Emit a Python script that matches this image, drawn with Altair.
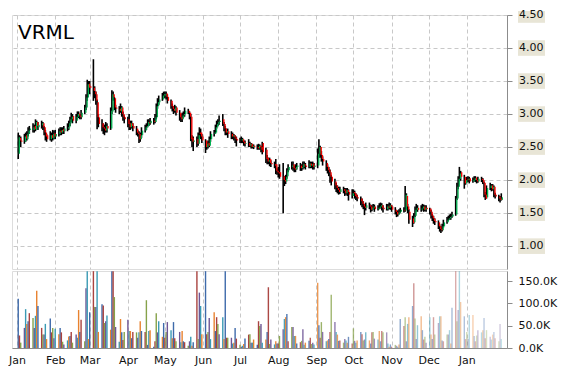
import altair as alt
import pandas as pd

ticker = "VRML"

# ---------------- OHLC per month (2019-01 .. 2020-01), trading days ----------------
o_jan19 = [2.40, 2.64, 2.60, 2.58, 2.68, 2.62, 2.70, 2.76, 2.76, 2.82, 2.76, 2.88, 2.80, 2.83, 2.86, 2.80, 2.72, 2.68, 2.62, 2.68, 2.63, 2.71]
h_jan19 = [2.72, 2.68, 2.66, 2.70, 2.72, 2.74, 2.80, 2.82, 2.86, 2.84, 2.92, 2.90, 2.88, 2.90, 2.88, 2.82, 2.76, 2.70, 2.74, 2.72, 2.76, 2.75]
l_jan19 = [2.32, 2.55, 2.50, 2.55, 2.58, 2.60, 2.66, 2.70, 2.72, 2.72, 2.74, 2.78, 2.76, 2.78, 2.76, 2.68, 2.60, 2.58, 2.60, 2.58, 2.60, 2.62]
c_jan19 = [2.65, 2.60, 2.58, 2.66, 2.63, 2.70, 2.75, 2.78, 2.80, 2.77, 2.88, 2.82, 2.84, 2.86, 2.80, 2.72, 2.66, 2.62, 2.68, 2.64, 2.70, 2.66]

o_feb19 = [2.66, 2.70, 2.75, 2.72, 2.77, 2.74, 2.78, 2.80, 2.86, 2.92, 2.97, 2.90, 2.96, 3.01, 2.98, 2.95, 3.02, 3.10, 3.25, 3.46]
h_feb19 = [2.76, 2.78, 2.80, 2.80, 2.80, 2.82, 2.86, 2.90, 2.96, 3.02, 3.00, 3.00, 3.04, 3.04, 3.00, 3.06, 3.14, 3.30, 3.52, 3.50]
l_feb19 = [2.62, 2.66, 2.68, 2.68, 2.70, 2.70, 2.74, 2.76, 2.82, 2.88, 2.86, 2.86, 2.92, 2.94, 2.92, 2.92, 3.00, 3.06, 3.20, 3.32]
c_feb19 = [2.70, 2.74, 2.72, 2.76, 2.74, 2.78, 2.80, 2.86, 2.92, 2.96, 2.90, 2.96, 3.00, 2.98, 2.95, 3.02, 3.10, 3.25, 3.45, 3.40]

o_mar19 = [3.42, 3.40, 3.34, 3.30, 3.18, 2.95, 2.86, 2.80, 2.78, 2.75, 2.82, 2.78, 3.04, 3.30, 3.24, 3.10, 3.08, 3.04, 3.10, 3.00, 2.95]
h_mar19 = [3.50, 3.83, 3.42, 3.34, 3.22, 3.00, 2.92, 2.86, 2.84, 2.88, 2.86, 3.10, 3.36, 3.34, 3.26, 3.14, 3.12, 3.16, 3.12, 3.04, 2.98]
l_mar19 = [3.30, 3.20, 3.24, 3.14, 2.77, 2.80, 2.74, 2.70, 2.68, 2.72, 2.72, 2.76, 3.00, 3.20, 3.06, 3.02, 3.00, 3.02, 2.96, 2.90, 2.86]
c_mar19 = [3.40, 3.35, 3.30, 3.20, 2.95, 2.85, 2.80, 2.78, 2.75, 2.82, 2.78, 3.05, 3.30, 3.25, 3.10, 3.08, 3.05, 3.10, 3.00, 2.95, 2.92]

o_apr19 = [2.92, 2.86, 2.80, 2.86, 2.82, 2.78, 2.72, 2.70, 2.62, 2.68, 2.75, 2.80, 2.82, 2.88, 2.86, 2.90, 2.88, 2.95, 3.12, 3.18, 3.22, 3.28]
h_apr19 = [2.96, 3.00, 2.90, 2.90, 2.86, 2.82, 2.76, 2.74, 2.72, 2.80, 2.84, 2.86, 2.92, 2.92, 2.94, 2.94, 3.00, 3.16, 3.24, 3.28, 3.32, 3.34]
l_apr19 = [2.80, 2.76, 2.76, 2.78, 2.74, 2.68, 2.66, 2.56, 2.58, 2.64, 2.72, 2.76, 2.80, 2.82, 2.84, 2.84, 2.86, 2.92, 3.08, 3.14, 3.20, 3.24]
c_apr19 = [2.85, 2.80, 2.86, 2.82, 2.78, 2.72, 2.70, 2.62, 2.68, 2.75, 2.80, 2.82, 2.88, 2.86, 2.90, 2.88, 2.95, 3.12, 3.18, 3.22, 3.28, 3.30]

o_may19 = [3.28, 3.31, 3.26, 3.20, 3.12, 3.08, 3.05, 3.10, 3.02, 2.95, 2.92, 2.98, 3.00, 3.05, 3.02, 2.96, 2.64, 2.58, 2.62, 2.55, 2.72, 2.72, 2.66]
h_may19 = [3.34, 3.34, 3.30, 3.22, 3.16, 3.12, 3.14, 3.12, 3.06, 3.00, 3.02, 3.04, 3.10, 3.08, 3.04, 3.00, 2.68, 2.66, 2.66, 2.72, 2.80, 2.78, 2.70]
l_may19 = [3.24, 3.22, 3.16, 3.08, 3.04, 3.00, 3.02, 2.98, 2.90, 2.88, 2.88, 2.94, 2.96, 3.00, 2.92, 2.59, 2.50, 2.44, 2.50, 2.52, 2.64, 2.62, 2.56]
c_may19 = [3.30, 3.26, 3.20, 3.12, 3.08, 3.05, 3.10, 3.02, 2.95, 2.92, 2.98, 3.00, 3.05, 3.02, 2.96, 2.62, 2.58, 2.60, 2.55, 2.68, 2.70, 2.66, 2.60]

o_jun19 = [2.60, 2.50, 2.56, 2.52, 2.62, 2.70, 2.72, 2.80, 2.85, 2.88, 2.92, 2.85, 2.78, 2.72, 2.74, 2.70, 2.66, 2.68, 2.65, 2.62]
h_jun19 = [2.62, 2.58, 2.60, 2.66, 2.74, 2.76, 2.84, 2.90, 2.92, 2.98, 3.00, 2.88, 2.82, 2.78, 2.78, 2.74, 2.72, 2.70, 2.68, 2.66]
l_jun19 = [2.41, 2.46, 2.48, 2.50, 2.58, 2.66, 2.70, 2.78, 2.82, 2.84, 2.82, 2.74, 2.68, 2.68, 2.64, 2.62, 2.62, 2.60, 2.56, 2.51]
c_jun19 = [2.50, 2.55, 2.52, 2.62, 2.70, 2.72, 2.80, 2.85, 2.88, 2.90, 2.85, 2.78, 2.72, 2.74, 2.70, 2.66, 2.68, 2.65, 2.62, 2.60]

o_jul19 = [2.60, 2.60, 2.62, 2.58, 2.55, 2.56, 2.52, 2.55, 2.50, 2.52, 2.50, 2.48, 2.52, 2.50, 2.56, 2.46, 2.34, 2.28, 2.32, 2.26, 2.24, 2.24, 2.14]
h_jul19 = [2.64, 2.66, 2.64, 2.60, 2.60, 2.62, 2.58, 2.56, 2.55, 2.54, 2.54, 2.55, 2.54, 2.52, 2.58, 2.49, 2.38, 2.34, 2.34, 2.30, 2.28, 2.32, 2.18]
l_jul19 = [2.56, 2.56, 2.56, 2.52, 2.51, 2.50, 2.50, 2.48, 2.48, 2.47, 2.46, 2.46, 2.46, 2.42, 2.39, 2.26, 2.24, 2.24, 2.21, 2.20, 2.18, 2.09, 2.08]
c_jul19 = [2.60, 2.62, 2.58, 2.55, 2.56, 2.52, 2.55, 2.50, 2.52, 2.50, 2.48, 2.52, 2.50, 2.46, 2.42, 2.32, 2.28, 2.30, 2.26, 2.24, 2.22, 2.14, 2.12]

o_aug19 = [2.12, 2.12, 2.06, 2.00, 1.98, 2.06, 2.15, 2.20, 2.24, 2.18, 2.16, 2.20, 2.22, 2.18, 2.20, 2.24, 2.22, 2.20, 2.25, 2.22, 2.25, 2.20]
h_aug19 = [2.20, 2.24, 2.26, 2.06, 2.08, 2.18, 2.24, 2.28, 2.28, 2.22, 2.24, 2.26, 2.26, 2.24, 2.28, 2.28, 2.26, 2.30, 2.28, 2.28, 2.28, 2.26]
l_aug19 = [2.04, 2.02, 1.50, 1.91, 1.94, 2.02, 2.12, 2.16, 2.14, 2.12, 2.12, 2.16, 2.14, 2.14, 2.16, 2.18, 2.16, 2.18, 2.18, 2.18, 2.16, 2.16]
c_aug19 = [2.10, 2.05, 2.00, 1.98, 2.05, 2.15, 2.20, 2.22, 2.18, 2.16, 2.20, 2.22, 2.18, 2.20, 2.24, 2.22, 2.20, 2.25, 2.22, 2.24, 2.20, 2.22]

o_sep19 = [2.22, 2.40, 2.50, 2.38, 2.32, 2.26, 2.20, 2.15, 2.12, 2.05, 1.98, 1.92, 1.88, 1.85, 1.82, 1.86, 1.84, 1.80, 1.85, 1.82, 1.76]
h_sep19 = [2.48, 2.62, 2.52, 2.44, 2.36, 2.30, 2.24, 2.20, 2.16, 2.08, 2.02, 1.96, 1.92, 1.90, 1.90, 1.90, 1.88, 1.88, 1.88, 1.86, 1.86]
l_sep19 = [2.18, 2.34, 2.34, 2.28, 2.22, 2.14, 2.10, 2.06, 1.96, 1.92, 1.86, 1.82, 1.80, 1.78, 1.79, 1.80, 1.76, 1.78, 1.76, 1.69, 1.72]
c_sep19 = [2.40, 2.50, 2.38, 2.32, 2.28, 2.20, 2.15, 2.12, 2.05, 1.98, 1.92, 1.88, 1.85, 1.82, 1.86, 1.84, 1.80, 1.85, 1.82, 1.78, 1.80]

o_oct19 = [1.82, 1.80, 1.78, 1.74, 1.72, 1.68, 1.64, 1.60, 1.58, 1.62, 1.60, 1.55, 1.58, 1.60, 1.56, 1.58, 1.60, 1.62, 1.58, 1.56, 1.60, 1.58, 1.62]
h_oct19 = [1.86, 1.84, 1.80, 1.78, 1.75, 1.72, 1.68, 1.64, 1.66, 1.66, 1.63, 1.62, 1.64, 1.63, 1.62, 1.65, 1.66, 1.65, 1.62, 1.64, 1.64, 1.66, 1.65]
l_oct19 = [1.76, 1.72, 1.70, 1.68, 1.62, 1.59, 1.56, 1.47, 1.54, 1.56, 1.51, 1.53, 1.55, 1.52, 1.54, 1.56, 1.57, 1.54, 1.51, 1.54, 1.54, 1.56, 1.55]
c_oct19 = [1.80, 1.76, 1.74, 1.72, 1.68, 1.64, 1.60, 1.58, 1.62, 1.60, 1.55, 1.58, 1.60, 1.56, 1.58, 1.60, 1.62, 1.58, 1.56, 1.60, 1.58, 1.62, 1.60]

o_nov19 = [1.60, 1.55, 1.52, 1.48, 1.50, 1.52, 1.55, 1.54, 1.76, 1.60, 1.52, 1.42, 1.36, 1.46, 1.55, 1.58, 1.55, 1.57, 1.60, 1.55, 1.58]
h_nov19 = [1.62, 1.59, 1.55, 1.54, 1.56, 1.58, 1.59, 1.91, 1.80, 1.64, 1.56, 1.46, 1.50, 1.60, 1.64, 1.62, 1.62, 1.64, 1.63, 1.62, 1.62]
l_nov19 = [1.52, 1.48, 1.44, 1.45, 1.48, 1.50, 1.51, 1.52, 1.56, 1.50, 1.34, 1.29, 1.34, 1.44, 1.52, 1.52, 1.52, 1.54, 1.52, 1.53, 1.52]
c_nov19 = [1.55, 1.52, 1.48, 1.50, 1.52, 1.55, 1.54, 1.78, 1.60, 1.55, 1.40, 1.35, 1.45, 1.55, 1.58, 1.55, 1.57, 1.60, 1.55, 1.58, 1.56]

o_dec19 = [1.57, 1.52, 1.46, 1.42, 1.38, 1.36, 1.30, 1.26, 1.24, 1.30, 1.36, 1.40, 1.42, 1.44, 1.45, 1.48, 1.72, 1.90, 2.02, 2.12, 2.05, 1.95]
h_dec19 = [1.58, 1.55, 1.49, 1.46, 1.42, 1.39, 1.33, 1.30, 1.34, 1.40, 1.44, 1.46, 1.48, 1.49, 1.52, 1.76, 1.96, 2.06, 2.20, 2.14, 2.08, 2.04]
l_dec19 = [1.48, 1.42, 1.38, 1.34, 1.32, 1.26, 1.22, 1.20, 1.22, 1.28, 1.34, 1.38, 1.40, 1.40, 1.43, 1.46, 1.70, 1.86, 1.98, 1.99, 1.87, 1.93]
c_dec19 = [1.52, 1.46, 1.42, 1.38, 1.36, 1.30, 1.26, 1.24, 1.30, 1.36, 1.40, 1.42, 1.44, 1.45, 1.48, 1.72, 1.90, 2.02, 2.10, 2.05, 1.95, 2.00]

o_jan20 = [2.01, 2.00, 2.03, 1.98, 2.00, 2.04, 2.00, 1.98, 2.02, 2.00, 1.96, 1.78, 1.74, 1.88, 1.92, 1.86, 1.90, 1.78, 1.75, 1.72, 1.70]
h_jan20 = [2.05, 2.06, 2.05, 2.04, 2.06, 2.06, 2.03, 2.05, 2.05, 2.03, 1.98, 1.82, 1.92, 1.96, 1.94, 1.94, 1.92, 1.81, 1.78, 1.76, 1.80]
l_jan20 = [1.96, 1.97, 1.95, 1.96, 1.98, 1.97, 1.95, 1.96, 1.97, 1.94, 1.74, 1.70, 1.72, 1.85, 1.83, 1.84, 1.74, 1.72, 1.68, 1.66, 1.69]
c_jan20 = [2.00, 2.02, 1.98, 2.00, 2.03, 2.00, 1.98, 2.02, 2.00, 1.96, 1.78, 1.72, 1.88, 1.92, 1.86, 1.90, 1.78, 1.75, 1.72, 1.70, 1.74]

# ---------------- volume per month (thousands of shares) ----------------
v_jan19 = [110, 28, 12, 45, 87, 54, 60, 78, 67, 45, 72, 128, 94, 45, 30, 30, 54, 20, 66, 35, 45, 22]
v_feb19 = [43, 31, 45, 35, 14, 8, 17, 26, 27, 36, 12, 30, 23, 85, 36, 63, 15, 134, 172, 20]
v_mar19 = [80, 172, 92, 92, 172, 36, 98, 95, 56, 60, 73, 41, 172, 172, 114, 47, 14, 65, 35, 18, 36]
v_apr19 = [63, 38, 38, 22, 36, 35, 23, 35, 60, 38, 36, 107, 7, 38, 40, 3, 15, 78, 35, 60, 25, 56]
v_may19 = [23, 36, 58, 40, 22, 58, 22, 15, 36, 13, 38, 15, 13, 5, 15, 25, 5, 13, 172, 20, 124, 94, 31]
v_jun19 = [172, 31, 36, 67, 20, 80, 38, 69, 54, 31, 69, 20, 172, 23, 23, 23, 10, 12, 45, 21]
v_jul19 = [7, 3, 5, 9, 21, 30, 31, 12, 12, 19, 7, 60, 49, 54, 12, 19, 36, 136, 9, 19, 8, 15, 10]
v_aug19 = [10, 27, 42, 65, 69, 76, 15, 47, 47, 27, 27, 10, 13, 16, 42, 7, 12, 16, 23, 9, 12, 8]
v_sep19 = [146, 51, 23, 58, 36, 15, 17, 20, 36, 119, 58, 36, 30, 16, 17, 12, 20, 17, 12, 25, 10]
v_oct19 = [44, 16, 12, 17, 36, 31, 17, 19, 35, 17, 10, 35, 36, 21, 19, 38, 15, 38, 35, 35, 10, 3, 8]
v_nov19 = [3, 7, 5, 3, 8, 65, 49, 69, 15, 54, 69, 94, 145, 66, 20, 51, 71, 40, 19, 25, 12]
v_dec19 = [69, 30, 20, 69, 30, 56, 71, 71, 17, 15, 30, 30, 40, 10, 90, 172, 60, 85, 172, 103, 71, 20]
v_jan20 = [36, 20, 74, 74, 27, 15, 28, 40, 35, 40, 67, 22, 40, 25, 19, 30, 36, 22, 15, 54, 20]

months = ["jan19", "feb19", "mar19", "apr19", "may19", "jun19", "jul19", "aug19",
          "sep19", "oct19", "nov19", "dec19", "jan20"]
g = globals()
opens, highs, lows, closes, vols = [], [], [], [], []
for m in months:
    opens += g["o_" + m]; highs += g["h_" + m]; lows += g["l_" + m]
    closes += g["c_" + m]; vols += g["v_" + m]

dates = pd.bdate_range("2019-01-02", "2020-01-29")
if not (len(opens) == len(highs) == len(lows) == len(closes) == len(vols) == len(dates)):
    raise SystemExit("length mismatch")

df = pd.DataFrame({
    "date": dates.strftime("%Y-%m-%dT00:00:00"),
    "open": opens, "high": highs, "low": lows, "close": closes,
    "volume": [v * 1000 for v in vols],
})

price_ticks = [1.0, 1.5, 2.0, 2.5, 3.0, 3.5, 4.0, 4.5]
volume_ticks = [0, 50000, 100000, 150000]
month_starts = [alt.DateTime(year=2019, month=m, date=1) for m in range(1, 13)] + \
               [alt.DateTime(year=2020, month=1, date=1)]

W = 495
PRICE_H = 254
VOL_H = 77
FONT = "DejaVu Sans"
GRID = "#c8c8c8"
AXISC = "#8c8c8c"

xscale = alt.Scale(domain=[alt.DateTime(year=2019, month=1, date=1),
                           alt.DateTime(year=2020, month=1, date=29, hours=14)])

x_grid_only = alt.Axis(values=month_starts, grid=True, gridDash=[4, 3], gridColor=GRID,
                       labels=False, ticks=False, domain=False, title=None)

pscale = alt.Scale(domain=[0.654, 4.5], nice=False, zero=False)
price_axis = alt.Axis(orient="right", values=price_ticks, title=None, labels=False,
                      grid=True, gridDash=[4, 3], gridColor=GRID,
                      domainColor=AXISC, tickColor=AXISC, tickSize=5)

base = alt.Chart(df).encode(x=alt.X("date:T", scale=xscale, axis=x_grid_only))

wick = base.mark_rule(color="black", strokeWidth=1.6).encode(
    y=alt.Y("low:Q", scale=pscale, axis=price_axis), y2="high:Q"
)
body = base.mark_bar(width=1.3, xOffset=1.1).encode(
    y=alt.Y("open:Q", scale=pscale, axis=price_axis), y2="close:Q",
    color=alt.condition("datum.close >= datum.open", alt.value("#00B050"), alt.value("#FF0000"))
)

# price labels drawn as text on beige boxes, placed by the price scale
ticks_src = alt.Chart(pd.DataFrame({"v": price_ticks})).transform_calculate(
    lo="datum.v - 0.118",
    hi="datum.v >= 4.5 ? 4.56 : datum.v + 0.118",
    lbl="format(datum.v, '.2f')"
)
label_bg = ticks_src.mark_rect(fill="#E8E5D6", opacity=1).encode(
    y=alt.Y("lo:Q", scale=pscale, axis=price_axis), y2="hi:Q",
    x=alt.value(W + 11), x2=alt.value(W + 38)
)
label_txt = ticks_src.mark_text(font=FONT, fontSize=11, color="#111", align="left",
                                baseline="middle").encode(
    y=alt.Y("v:Q", scale=pscale, axis=price_axis), text="lbl:N", x=alt.value(W + 12)
)

title = alt.Chart(pd.DataFrame({"t": [ticker]})).mark_text(
    font=FONT, fontSize=20, align="left", baseline="alphabetic", color="#000"
).encode(text="t:N", x=alt.value(6), y=alt.value(24))

price = alt.layer(wick, body, label_bg, label_txt, title).properties(width=W, height=PRICE_H)

palette = ["#3E6AAA", "#A9423F", "#86A24A", "#6E5595", "#3A9AB4", "#E8822F"]
vscale = alt.Scale(domain=[0, 172400], nice=False)
volume = alt.Chart(df).transform_window(
    idx="row_number()"
).transform_calculate(
    cyc="(datum.idx - 1) % 6"
).mark_bar(width=1.4, clip=True).encode(
    x=alt.X("date:T", scale=xscale,
            axis=alt.Axis(values=month_starts, format="%b", grid=True, gridDash=[4, 3],
                          gridColor=GRID, ticks=False, domainColor=AXISC,
                          labelFont=FONT, labelFontSize=11, labelColor="#111",
                          labelPadding=6, labelAlign="center", labelFlush=False, title=None)),
    y=alt.Y("volume:Q", scale=vscale,
            axis=alt.Axis(orient="right", values=volume_ticks, grid=False, title=None,
                          labelExpr="format(datum.value / 1000, '.1f') + 'K'",
                          domainColor=AXISC, tickColor=AXISC, tickSize=5,
                          labelFont=FONT, labelFontSize=11, labelColor="#111", labelPadding=6)),
    color=alt.Color("cyc:O", scale=alt.Scale(domain=[0, 1, 2, 3, 4, 5], range=palette), legend=None),
    opacity=alt.Opacity("date:T", scale=alt.Scale(
        domain=[alt.DateTime(year=2019, month=7, date=15), alt.DateTime(year=2020, month=1, date=29)],
        range=[1, 0.3], clamp=True), legend=None),
).properties(width=W, height=VOL_H)

chart = alt.vconcat(price, volume, spacing=0).properties(
    padding={"left": 0, "top": 0, "right": 0, "bottom": 0},
).configure_view(stroke=None).configure(background="white")

chart.save("out.html", embed_options={"renderer": "svg", "actions": False})
